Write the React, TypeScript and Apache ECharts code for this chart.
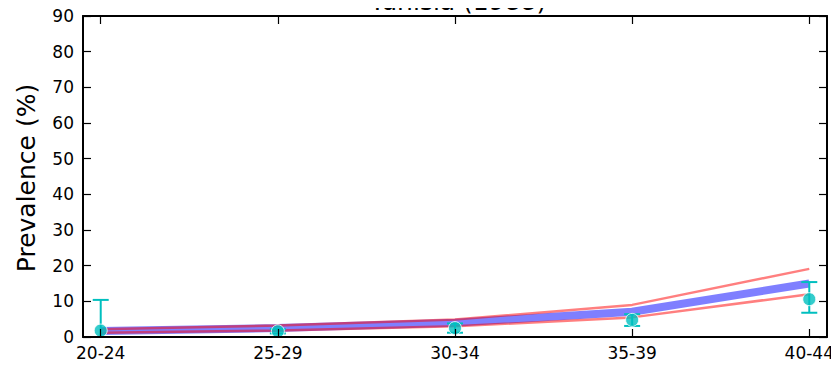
import React, { useEffect, useRef } from "react";
import * as echarts from "echarts";

const categories = ["20-24", "25-29", "30-34", "35-39", "40-44"];
const modelMid = [1.7, 2.5, 4.0, 7.1, 15.0];
const modelUpper = [2.2, 3.2, 4.9, 9.0, 19.1];
const modelLower = [1.2, 1.8, 3.0, 5.5, 12.0];
const observed = [1.8, 1.6, 2.5, 4.8, 10.6];
const obsLow = [0, 1.0, 1.2, 3.1, 6.8];
const obsHigh = [10.4, 2.2, 3.8, 6.4, 15.4];
const yTicks = [0, 10, 20, 30, 40, 50, 60, 70, 80, 90];

const FONT = "DejaVu Sans";

export default function App() {
  const ref = useRef<HTMLDivElement>(null);
  useEffect(() => {
    const chart = echarts.init(ref.current!, null, { renderer: "svg" });
    const idx = categories.map((_, i) => i);
    const pairs = (arr: number[]) => arr.map((v, i) => [i, v]);
    const axisLine = { show: true, onZero: false, lineStyle: { color: "#000", width: 2 } };
    const tick = { show: true, inside: true, length: 8, lineStyle: { color: "#000", width: 1.2 } };
    const option: any = {
      animation: false,
      grid: { left: 83, right: 12, top: 16, bottom: 32, containLabel: false },
      graphic: [
        {
          type: "text",
          x: 458,
          y: 14,
          style: { text: "Tunisia (1988)", font: `25px '${FONT}'`, fill: "#000", textAlign: "center", textVerticalAlign: "bottom" },
        },
        {
          type: "text",
          x: 26,
          y: 178,
          rotation: Math.PI / 2,
          style: { text: "Prevalence (%)", font: `25px '${FONT}'`, fill: "#000", textAlign: "center", textVerticalAlign: "middle" },
        },
      ],
      xAxis: [
        {
          type: "value",
          min: -0.1,
          max: 4.1,
          position: "bottom",
          z: 10,
          axisLine,
          axisTick: { ...tick, customValues: idx },
          axisLabel: {
            customValues: idx,
            formatter: (v: number) => categories[Math.round(v)] ?? "",
            color: "#000",
            fontFamily: FONT,
            fontSize: 17,
            margin: 7,
          },
          splitLine: { show: false },
        },
        {
          type: "value",
          min: -0.1,
          max: 4.1,
          position: "top",
          z: 10,
          axisLine,
          axisTick: { ...tick, customValues: idx },
          axisLabel: { show: false, customValues: idx },
          splitLine: { show: false },
        },
      ],
      yAxis: [
        {
          type: "value",
          min: 0,
          max: 90,
          interval: 10,
          position: "left",
          z: 10,
          axisLine,
          axisTick: tick,
          axisLabel: {
            color: "#000",
            fontFamily: FONT,
            fontSize: 17,
            margin: 9,
            customValues: yTicks,
          },
          splitLine: { show: false },
        },
        {
          type: "value",
          min: 0,
          max: 90,
          interval: 10,
          position: "right",
          z: 10,
          axisLine,
          axisTick: tick,
          axisLabel: { show: false },
          splitLine: { show: false },
        },
      ],
      series: [
        {
          type: "line",
          data: pairs(modelMid),
          symbol: "none",
          lineStyle: { color: "rgba(0,0,255,0.5)", width: 8 },
          z: 2,
        },
        {
          type: "line",
          data: pairs(modelUpper),
          symbol: "none",
          lineStyle: { color: "rgba(255,0,0,0.5)", width: 2.5 },
          z: 3,
        },
        {
          type: "line",
          data: pairs(modelLower),
          symbol: "none",
          lineStyle: { color: "rgba(255,0,0,0.5)", width: 2.5 },
          z: 3,
        },
        {
          type: "custom",
          data: observed.map((_, i) => [i, obsLow[i], obsHigh[i]]),
          z: 4,
          renderItem: (params: any, api: any) => {
            const x = api.value(0);
            const lo = api.coord([x, api.value(1)]);
            const hi = api.coord([x, api.value(2)]);
            const half = 8;
            const st = { stroke: "#00bfbf", lineWidth: 2 };
            return {
              type: "group",
              children: [
                { type: "line", shape: { x1: lo[0], y1: lo[1], x2: hi[0], y2: hi[1] }, style: st },
                { type: "line", shape: { x1: hi[0] - half, y1: hi[1], x2: hi[0] + half, y2: hi[1] }, style: st },
                { type: "line", shape: { x1: lo[0] - half, y1: lo[1], x2: lo[0] + half, y2: lo[1] }, style: st },
              ],
            };
          },
        },
        {
          type: "scatter",
          data: pairs(observed),
          symbol: "circle",
          symbolSize: 13,
          itemStyle: { color: "#00bfbf", borderColor: "#fff", borderWidth: 1 },
          z: 5,
        },
      ],
    };
    chart.setOption(option);
    return () => chart.dispose();
  }, []);
  return <div ref={ref} style={{ width: 839, height: 369, margin: -8 }} />;
}
